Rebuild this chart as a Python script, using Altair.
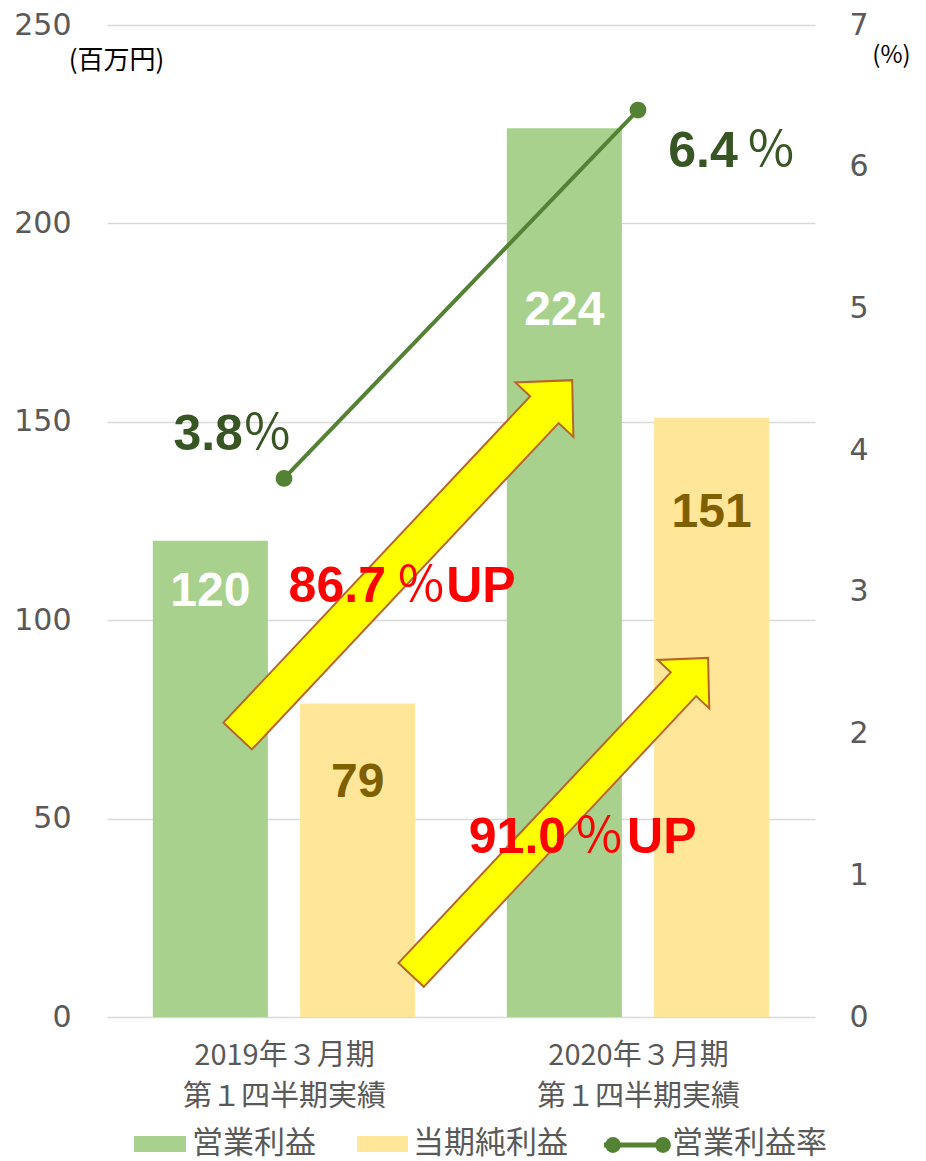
import json
import math
import altair as alt
import pandas as pd

# ---------------- data ----------------
cat_line1 = ["2019年３月期", "2020年３月期"]
cat_line2 = ["第１四半期実績", "第１四半期実績"]
series = ["営業利益", "当期純利益"]
op_profit = [120, 224]
net_profit = [79, 151]
op_margin = [3.8, 6.4]
legend_line = "営業利益率"

# label anchor values (in 百万円 units) for the numbers inside bars
op_label_y = [107, 178]
net_label_y = [59, 127]

# margin annotations ("3.8％", "6.4％")
margin_text = ["3.8", "6.4"]
margin_num_x = [0.384, 1.782]      # right edge of the digits
margin_pct_x = [0.453, 1.876]      # centre of the ％ sign
margin_y = [142.9, 214.2]          # baseline

# growth annotations ("86.7％UP", "91.0％UP")
growth_text = ["86.7", "91.0"]
growth_num_x = [0.788, 1.297]
growth_pct_x = [0.887, 1.390]
growth_up_x = [0.958, 1.469]
growth_y = [104.6, 41.3]

# arrows: tail and tip, in data units
arrow_tail_x = [0.369, 0.859]
arrow_tail_y = [70.8, 10.6]
arrow_tip_x = [1.314, 1.698]
arrow_tip_y = [160.5, 90.5]

# ---------------- layout ----------------
W, H = 708, 992
YMAX, Y2MAX = 250, 7
PX_X = W / 2.0
PX_Y = H / YMAX
BAR_W = 0.325
BAR_OFF = [-0.208, 0.208]

GREEN = "#A9D18E"
YELLOW = "#FFE699"
LINE = "#548235"
DARKGREEN = "#375623"
GOLD = "#7F6000"
RED = "#FF0000"
GRID = "#D9D9D9"
AXIS_TXT = "#595959"
JP = "Noto Sans CJK JP"
NUM = "DejaVu Sans"
BOLD = "Liberation Sans"

xs = alt.Scale(domain=[0, 2], nice=False, zero=False)
ys = alt.Scale(domain=[0, YMAX], nice=False)
y2s = alt.Scale(domain=[0, Y2MAX], nice=False)

# bars
rows = []
for i in range(len(cat_line1)):
    for j, (s, vals, ly, lc) in enumerate([
        (series[0], op_profit, op_label_y, "#FFFFFF"),
        (series[1], net_profit, net_label_y, GOLD),
    ]):
        c = i + 0.5 + BAR_OFF[j]
        rows.append(dict(series=s, x0=c - BAR_W / 2, x1=c + BAR_W / 2, xc=c,
                         value=vals[i], base=0, label=str(vals[i]), label_y=ly[i],
                         fill=GREEN if j == 0 else YELLOW, tcolor=lc))
bars_df = pd.DataFrame(rows)

labels_nested = [[a, b] for a, b in zip(cat_line1, cat_line2)]
label_expr = ("datum.value < 1 ? " + json.dumps(labels_nested[0], ensure_ascii=False)
              + " : " + json.dumps(labels_nested[1], ensure_ascii=False))

x_axis = alt.Axis(
    values=[0.5, 1.5], labelExpr=label_expr, grid=False, domain=False,
    ticks=False, labelPadding=24, labelFontSize=29, labelLimit=500,
    labelLineHeight=41, labelColor=AXIS_TXT, labelFont=JP,
    labelFlush=False, title=None)
y_axis = alt.Axis(
    values=[0, 50, 100, 150, 200, 250], grid=True, gridColor=GRID,
    gridWidth=1.3, domain=False, ticks=False, labelPadding=36,
    labelFontSize=30, labelColor=AXIS_TXT, labelFont=NUM, format="d",
    title="(百万円)", titleAngle=0, titleX=9, titleY=35,
    titleAlign="center", titleBaseline="middle", titleFont=JP,
    titleFontSize=26, titleFontWeight="normal", titleColor="#000000")
y2_axis = alt.Axis(
    orient="right", values=list(range(0, 8)), grid=False, domain=False,
    ticks=False, labelPadding=34, labelFontSize=30, format="d",
    labelColor=AXIS_TXT, labelFont=NUM, titleLimit=200,
    title="(%)", titleAngle=0, titleX=76, titleY=30, titleAlign="center",
    titleBaseline="middle", titleFont=JP, titleFontSize=24,
    titleFontWeight="normal", titleColor="#000000")

bars = alt.Chart(bars_df).mark_bar().encode(
    x=alt.X("x0:Q", scale=xs, axis=x_axis),
    x2="x1:Q",
    y=alt.Y("value:Q", scale=ys, axis=y_axis),
    y2="base:Q",
    color=alt.Color("fill:N", scale=None),
)

bar_labels = alt.Chart(bars_df).mark_text(
    font=BOLD, fontWeight="bold", fontSize=48, baseline="middle", align="center"
).encode(
    x=alt.X("xc:Q", scale=xs),
    y=alt.Y("label_y:Q", scale=ys),
    text="label:N",
    color=alt.Color("tcolor:N", scale=None),
)

# arrows
ARROW = "M-1,-0.08L0.834,-0.08L0.834,-0.163L1,0L0.834,0.163L0.834,0.08L-1,0.08Z"
arows = []
for tx, ty, hx, hy in zip(arrow_tail_x, arrow_tail_y, arrow_tip_x, arrow_tip_y):
    dx = (hx - tx) * PX_X
    dy = -(hy - ty) * PX_Y
    length = math.hypot(dx, dy)
    ang = math.degrees(math.atan2(dy, dx)) % 360
    arows.append(dict(cx=(tx + hx) / 2, cy=(ty + hy) / 2, size=length ** 2, angle=ang))
arrow_df = pd.DataFrame(arows)
arrows = alt.Chart(arrow_df).mark_point(
    shape=ARROW, filled=True, fill="#FFFF00", stroke="#B8652A", strokeWidth=2, opacity=1
).encode(
    x=alt.X("cx:Q", scale=xs),
    y=alt.Y("cy:Q", scale=ys),
    size=alt.Size("size:Q", scale=None),
    angle=alt.Angle("angle:Q", scale=None),
)

# annotation texts
num_df = pd.DataFrame(dict(
    text=margin_text + growth_text,
    x=margin_num_x + growth_num_x,
    y=margin_y + growth_y,
    color=[DARKGREEN, DARKGREEN, RED, RED],
))
pct_df = pd.DataFrame(dict(
    text=["％"] * 4,
    x=margin_pct_x + growth_pct_x,
    y=margin_y + growth_y,
    color=[DARKGREEN, DARKGREEN, RED, RED],
))
up_df = pd.DataFrame(dict(text=["UP"] * 2, x=growth_up_x, y=growth_y, color=[RED, RED]))

def ann(df, align, weight, font):
    return alt.Chart(df).mark_text(
        font=font, fontWeight=weight, fontSize=50, baseline="alphabetic", align=align
    ).encode(
        x=alt.X("x:Q", scale=xs),
        y=alt.Y("y:Q", scale=ys),
        text="text:N",
        color=alt.Color("color:N", scale=None),
    )

nums = ann(num_df, "right", "bold", BOLD)
pcts = ann(pct_df, "center", "normal", JP)
ups = ann(up_df, "left", "bold", BOLD)

# manual legend (pixel layout below the plot)
one = pd.DataFrame({"k": [0]})
leg_y = 1119
leg = []
leg.append(alt.Chart(one).mark_rect(color=GREEN).encode(
    x=alt.value(27), x2=alt.value(79), y=alt.value(leg_y - 8), y2=alt.value(leg_y + 8)))
leg.append(alt.Chart(one).mark_rect(color=YELLOW).encode(
    x=alt.value(250), x2=alt.value(301), y=alt.value(leg_y - 8), y2=alt.value(leg_y + 8)))
leg.append(alt.Chart(one).mark_rule(color=LINE, strokeWidth=5).encode(
    x=alt.value(497), x2=alt.value(557), y=alt.value(leg_y + 1)))
for px in [506, 556]:
    leg.append(alt.Chart(one).mark_point(
        filled=True, color=LINE, size=250, opacity=1).encode(
        x=alt.value(px), y=alt.value(leg_y + 1)))
for txt, px in zip(series + [legend_line], [85, 306, 565]):
    leg.append(alt.Chart(one).mark_text(
        text=txt, font=JP, fontSize=31, color=AXIS_TXT, align="left", baseline="middle"
    ).encode(x=alt.value(px), y=alt.value(leg_y)))

left_group = alt.layer(bars, arrows, bar_labels, nums, pcts, ups, *leg)

# line (right axis)
line_df = pd.DataFrame(dict(x=[0.5, 1.5], margin=op_margin))
line = alt.Chart(line_df).mark_line(color=LINE, strokeWidth=4).encode(
    x=alt.X("x:Q", scale=xs),
    y=alt.Y("margin:Q", scale=y2s, axis=y2_axis),
)
pts = alt.Chart(line_df).mark_point(filled=True, color=LINE, size=280, opacity=1).encode(
    x=alt.X("x:Q", scale=xs),
    y=alt.Y("margin:Q", scale=y2s),
)
right_group = alt.layer(line, pts)

chart = alt.layer(left_group, right_group).resolve_scale(y="independent").properties(
    width=W, height=H,
    background="#FFFFFF",
    autosize=alt.AutoSizeParams(type="none"),
    padding={"left": 99, "top": 17, "right": 95, "bottom": 150},
).configure_view(stroke=None)

chart.save("out.html", embed_options={"renderer": "svg", "actions": False})
